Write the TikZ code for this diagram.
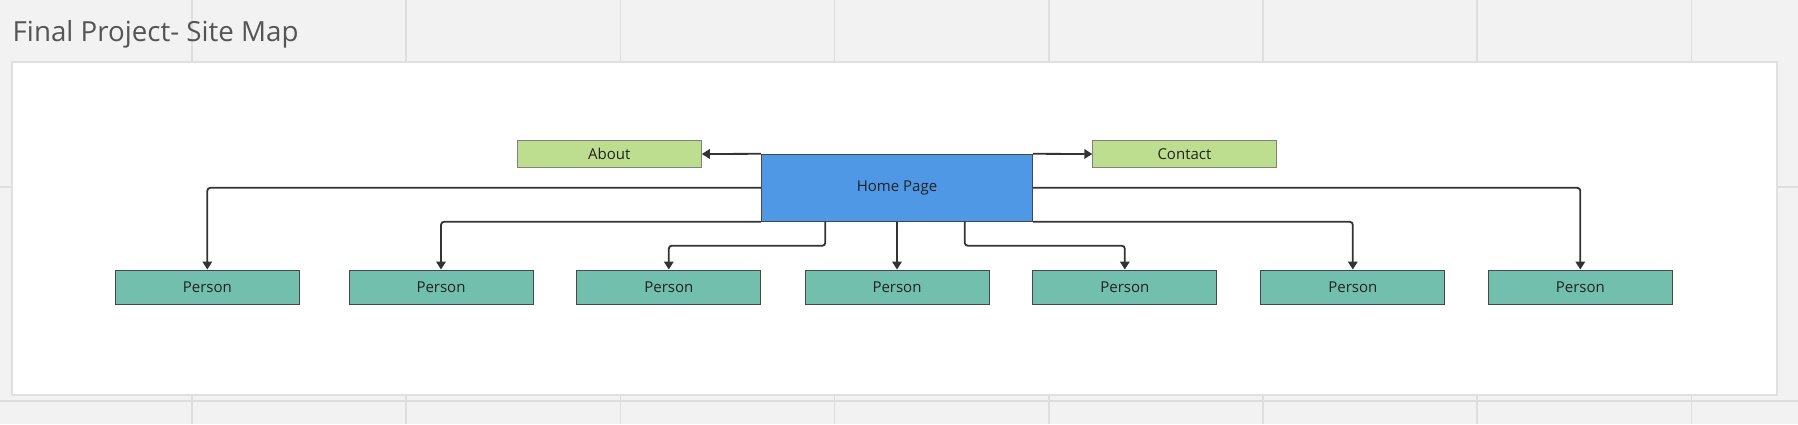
\documentclass[tikz,border=0pt]{standalone}
\usepackage{fontspec}
\setmainfont{Open Sans}
\usetikzlibrary{arrows.meta}
\definecolor{bgc}{HTML}{F2F2F2}
\definecolor{gridc}{HTML}{DEDEDE}
\definecolor{framec}{HTML}{E0E0E0}
\definecolor{titlec}{HTML}{555555}
\definecolor{personc}{HTML}{72BFAD}
\definecolor{greenc}{HTML}{BCDE8E}
\definecolor{homec}{HTML}{4F98E6}
\definecolor{linec}{HTML}{333333}
\definecolor{txtc}{HTML}{222222}
\tikzset{
  box/.style={draw=linec!90, line width=1pt, inner sep=0pt, text=txtc,
    font=\fontsize{15}{18}\selectfont, anchor=center},
  personbox/.style={box, fill=personc, minimum width=184pt, minimum height=34.7pt},
  greenbox/.style={box, fill=greenc, draw=black!50, minimum width=184pt, minimum height=26.6pt},
  homebox/.style={box, fill=homec, minimum width=271.4pt, minimum height=67pt},
  conn/.style={draw=linec, line width=1.8pt, rounded corners=3pt,
    -{Triangle[width=9.5pt,length=8pt]}},
  gridline/.style={draw=gridc, line width=1.5pt}
}
\begin{document}
\begin{tikzpicture}[x=1pt,y=-1pt]
\useasboundingbox (0,0) rectangle (1798,424);
\fill[bgc] (0,0) rectangle (1798,424);
\foreach \k in {0,...,7} {
  \draw[gridline] ({192+214.2*\k},0) -- ({192+214.2*\k},424);
}
\draw[gridline] (0,187) -- (1798,187);
\draw[gridline] (0,401) -- (1798,401);
\draw[fill=white, draw=framec, line width=1.5pt] (12,62) rectangle (1777,395);
\node[anchor=base west, inner sep=0pt, text=titlec, font=\fontsize{27.7}{32}\selectfont] (title) at (12.5,41) {Final Project- Site Map};

\node[homebox] (Home) at (897,187.8) {Home Page};
\node[greenbox] (About) at (609.3,154) {About};
\node[greenbox, minimum width=183.3pt] (Contact) at (1184.4,154) {Contact};

\node[personbox] (P1) at (207.3,287.4) {Person};
\node[personbox] (P2) at (441,287.4) {Person};
\node[personbox] (P3) at (668.8,287.4) {Person};
\node[personbox] (P4) at (897,287.4) {Person};
\node[personbox] (P5) at (1124.8,287.4) {Person};
\node[personbox] (P6) at (1352.8,287.4) {Person};
\node[personbox] (P7) at (1580.3,287.4) {Person};

\coordinate (h3) at (825.3,221.3);
\coordinate (j3) at (825.3,245.7);
\coordinate (h5) at (964.7,221.3);
\coordinate (j5) at (964.7,245.7);

\draw[conn] (Home.north west) -- (About.east);
\draw[conn] (Home.north east) -- (Contact.west);
\draw[conn] (Home.west) -| (P1.north);
\draw[conn] (Home.east) -| (P7.north);
\draw[conn] (Home.south west) -| (P2.north);
\draw[conn] (Home.south east) -| (P6.north);
\draw[conn] (h3) -- (j3) -| (P3.north);
\draw[conn] (Home.south) -- (P4.north);
\draw[conn] (h5) -- (j5) -| (P5.north);
\end{tikzpicture}
\end{document}
